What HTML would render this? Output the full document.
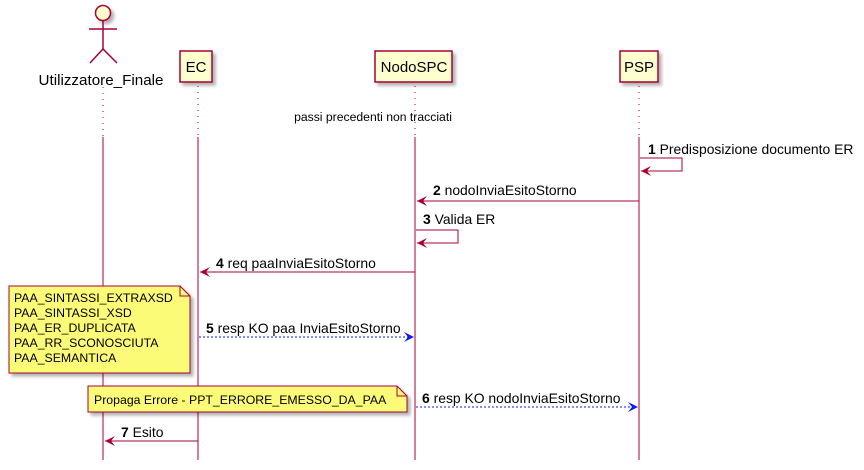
<!DOCTYPE html>
<html><head><meta charset="utf-8"><style>body{margin:0;background:#fff}svg{display:block}text{font-family:"Liberation Sans","DejaVu Sans",sans-serif}</style></head><body>
<svg width="864" height="470" viewBox="0 0 864 470" xmlns="http://www.w3.org/2000/svg">
<defs><filter id="sh" x="-20%" y="-20%" width="150%" height="150%"><feDropShadow dx="3" dy="3" stdDeviation="1.5" flood-color="#000" flood-opacity="0.3"/></filter></defs>
<g stroke="#A80036" stroke-width="1">
<line x1="103" y1="87" x2="103" y2="137" stroke-dasharray="1,5"/><line x1="103" y1="137" x2="103" y2="460"/>
<line x1="198" y1="86" x2="198" y2="137" stroke-dasharray="1,5"/><line x1="198" y1="137" x2="198" y2="460"/>
<line x1="415" y1="86" x2="415" y2="137" stroke-dasharray="1,5"/><line x1="415" y1="137" x2="415" y2="460"/>
<line x1="639" y1="86" x2="639" y2="137" stroke-dasharray="1,5"/><line x1="639" y1="137" x2="639" y2="460"/>
</g>
<g fill="#FEFECE" stroke="#A80036" stroke-width="1.5" filter="url(#sh)">
<rect x="180" y="51" width="32" height="31"/>
<rect x="375" y="51" width="77" height="31"/>
<rect x="620" y="51" width="38" height="31"/>
<circle cx="103" cy="13" r="7.5"/>
</g>
<g stroke="#A80036" stroke-width="1.5" fill="none">
<line x1="103" y1="21" x2="103" y2="49"/><line x1="89" y1="29" x2="117" y2="29"/>
<polyline points="90,63 103,49 117,63"/>
</g>
<g font-size="14" fill="#000" text-anchor="middle">
<text x="101" y="85" font-size="15.2">Utilizzatore_Finale</text>
<text x="196" y="72" font-size="15">EC</text>
<text x="414" y="72" font-size="15">NodoSPC</text>
<text x="639" y="72" font-size="15">PSP</text>
</g>
<text x="373" y="121" font-size="12.2" text-anchor="middle">passi precedenti non tracciati</text>
<g stroke="#A80036" fill="none" stroke-width="1">
<polyline points="640,158 682,158 682,171 641,171"/>
<line x1="639" y1="201" x2="417" y2="201"/>
<polyline points="416,230 458,230 458,243 417,243"/>
<line x1="415" y1="272" x2="200" y2="272"/>
<line x1="198" y1="441" x2="105" y2="441"/>
</g>
<g fill="#A80036">
<polygon points="641,171 651,166 647,171 651,176"/>
<polygon points="417,201 427,196 423,201 427,206"/>
<polygon points="417,243 427,238 423,243 427,248"/>
<polygon points="200,272 210,267 206,272 210,277"/>
<polygon points="105,441 115,436 111,441 115,446"/>
</g>
<g stroke="#0B1CF0" stroke-width="1" stroke-dasharray="2,2" fill="none">
<line x1="199" y1="337" x2="412" y2="337"/>
<line x1="416" y1="407" x2="636" y2="407"/>
</g>
<g fill="#0B1CF0">
<polygon points="414,337 404,332 408,337 404,342"/>
<polygon points="638,407 628,402 632,407 628,412"/>
</g>
<g font-size="13.9" fill="#000">
<text x="648" y="154"><tspan font-weight="bold">1</tspan> Predisposizione documento ER</text>
<text x="433" y="195"><tspan font-weight="bold">2</tspan> nodoInviaEsitoStorno</text>
<text x="423" y="224"><tspan font-weight="bold">3</tspan> Valida ER</text>
<text x="216" y="268"><tspan font-weight="bold">4</tspan> req paaInviaEsitoStorno</text>
<text x="206" y="333"><tspan font-weight="bold">5</tspan> resp KO paa InviaEsitoStorno</text>
<text x="422" y="403"><tspan font-weight="bold">6</tspan> resp KO nodoInviaEsitoStorno</text>
<text x="121" y="437"><tspan font-weight="bold">7</tspan> Esito</text>
</g>
<g fill="#FBFB77" stroke="#A80036" stroke-width="1" filter="url(#sh)">
<path d="M9,286 H180 L190,296 V373 H9 Z"/>
<path d="M88,386 H397 L407,396 V412 H88 Z"/>
</g>
<g fill="none" stroke="#A80036"><path d="M180,286 V296 H190"/><path d="M397,386 V396 H407"/></g>
<g font-size="12.3" fill="#000">
<text x="14" y="302">PAA_SINTASSI_EXTRAXSD</text>
<text x="14" y="317">PAA_SINTASSI_XSD</text>
<text x="14" y="332">PAA_ER_DUPLICATA</text>
<text x="14" y="347">PAA_RR_SCONOSCIUTA</text>
<text x="14" y="362">PAA_SEMANTICA</text>
<text x="94" y="404">Propaga Errore - PPT_ERRORE_EMESSO_DA_PAA</text>
</g>
</svg>
</body></html>
